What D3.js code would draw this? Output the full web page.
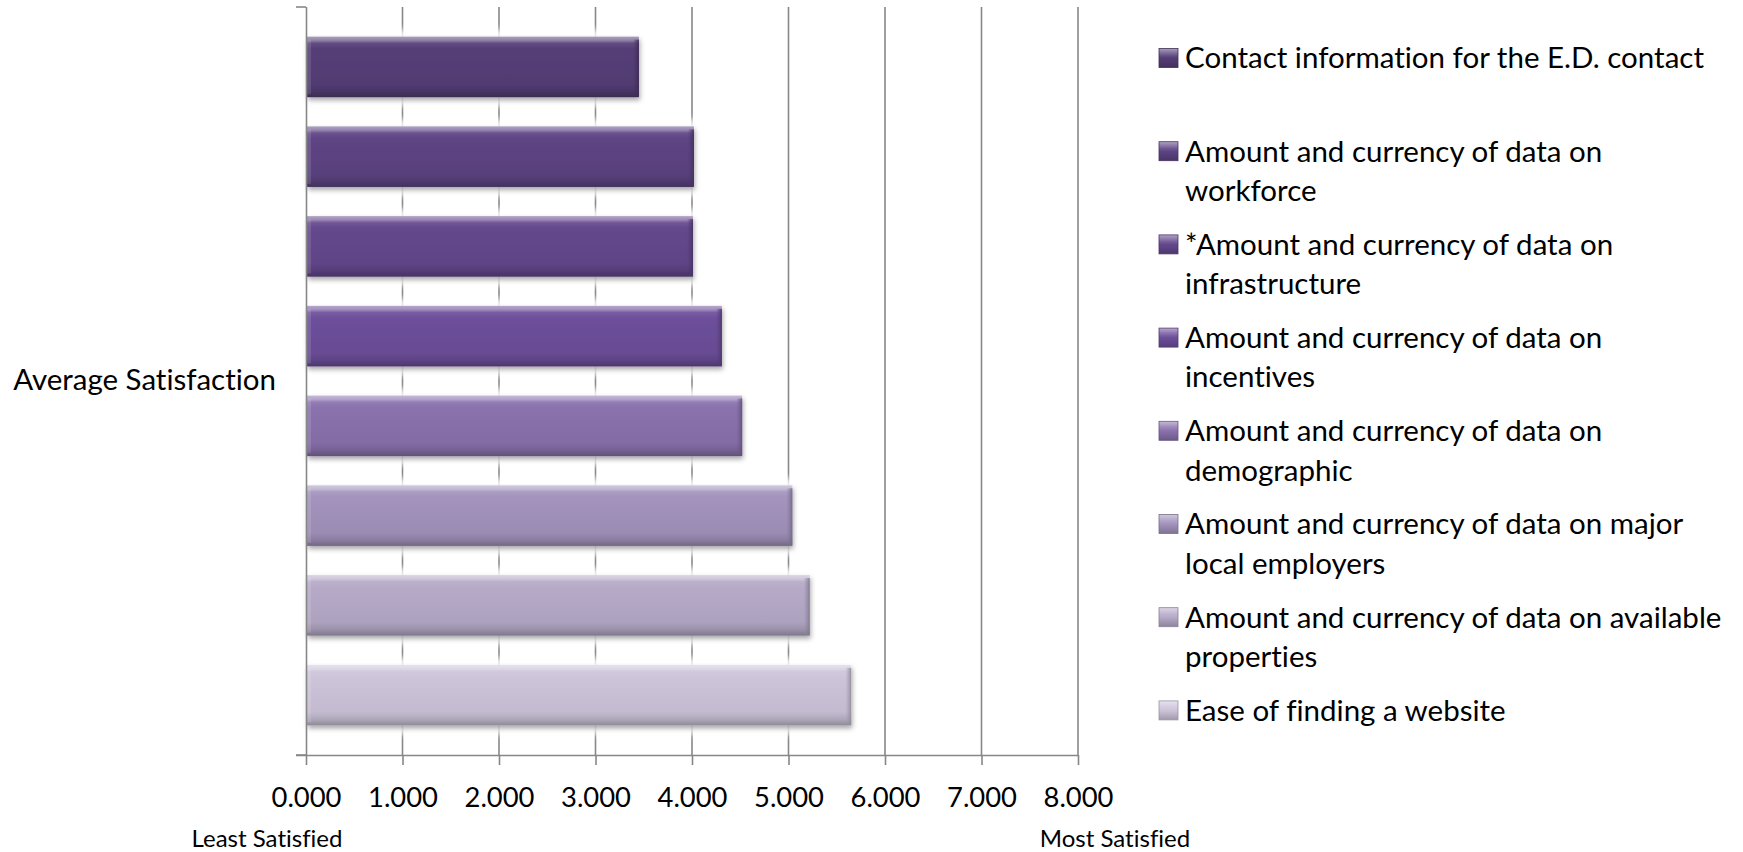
<!DOCTYPE html>
<html>
<head>
<meta charset="utf-8">
<script src="https://cdn.jsdelivr.net/npm/d3@7"></script>
<style>
  html, body { margin: 0; padding: 0; background: #ffffff; }
  svg { display: block; }
  text { font-variant-ligatures: none; }
</style>
</head>
<body>
<svg id="chart" width="1743" height="852"></svg>
<script>
// ---------------- data ----------------
const categoryLabel = "Average Satisfaction";
const seriesNames = [
  "Contact information for the E.D. contact",
  "Amount and currency of data on workforce",
  "*Amount and currency of data on infrastructure",
  "Amount and currency of data on incentives",
  "Amount and currency of data on demographic",
  "Amount and currency of data on major local employers",
  "Amount and currency of data on available properties",
  "Ease of finding a website"
];
const seriesValues = [3.45, 4.02, 4.01, 4.31, 4.52, 5.04, 5.22, 5.65];
const seriesColors = ["#553e77", "#5e4484", "#64488d", "#6d4f9b", "#8a72ad", "#a393bd", "#b6aac8", "#cdc4da"];
const xTicks = [0, 1, 2, 3, 4, 5, 6, 7, 8];
const xDomain = [0, 8];
const leftNote = "Least Satisfied";
const rightNote = "Most Satisfied";

// ---------------- layout ----------------
const plot = { left: 306, right: 1078, top: 7, bottom: 755 };
const FONT = "Lato, 'Open Sans', 'DejaVu Sans', sans-serif";
const axisColor = "#878787";

const svg = d3.select("#chart");
const defs = svg.append("defs");

function fitSize(text, target) {
  const t = svg.append("text").attr("font-family", FONT).attr("font-size", 100).text(text);
  const w = t.node().getComputedTextLength();
  t.remove();
  return 100 * target / w;
}
const legendSize = fitSize(seriesNames[0], 519);
const tickSize = fitSize("8.000", 70);
const catSize = fitSize(categoryLabel, 263);
const noteSize = fitSize(leftNote, 151);

const x = d3.scaleLinear().domain(xDomain).range([plot.left, plot.right]);
const yCat = d3.scaleBand().domain([categoryLabel]).range([plot.top, plot.bottom]);
const y = d3.scaleBand().domain(seriesNames).range([plot.top, plot.bottom])
  .paddingInner(0.325).paddingOuter(0.33);

// filters
const sh = defs.append("filter").attr("id", "shadow")
  .attr("x", "-5%").attr("y", "-30%").attr("width", "115%").attr("height", "170%");
sh.append("feDropShadow").attr("dx", 1).attr("dy", 3).attr("stdDeviation", 2.5)
  .attr("flood-color", "#000").attr("flood-opacity", 0.35);
const glow = defs.append("filter").attr("id", "glow")
  .attr("x", "-10%").attr("y", "-50%").attr("width", "120%").attr("height", "200%");
glow.append("feGaussianBlur").attr("stdDeviation", 3);

// gradients for each series
const lighten = (c, t) => d3.interpolateRgb(c, "#ffffff")(t);
const darken = (c, t) => d3.interpolateRgb(c, "#000000")(t);
seriesColors.forEach((c, i) => {
  const g = defs.append("linearGradient").attr("id", "bar" + i)
    .attr("x1", 0).attr("y1", 0).attr("x2", 0).attr("y2", 1);
  [[0, lighten(c, 0.5)], [0.06, lighten(c, 0.36)], [0.11, lighten(c, 0.08)], [0.2, c],
   [0.78, darken(c, 0.05)], [0.9, darken(c, 0.15)], [1, darken(c, 0.3)]]
    .forEach(([o, col]) => g.append("stop").attr("offset", o).attr("stop-color", col));
  const r = defs.append("linearGradient").attr("id", "edge" + i)
    .attr("x1", 0).attr("y1", 0).attr("x2", 1).attr("y2", 0);
  r.append("stop").attr("offset", 0).attr("stop-color", darken(c, 0.2)).attr("stop-opacity", 0);
  r.append("stop").attr("offset", 1).attr("stop-color", darken(c, 0.3)).attr("stop-opacity", 0.9);
  const s = defs.append("linearGradient").attr("id", "sw" + i)
    .attr("x1", 0).attr("y1", 0).attr("x2", 0).attr("y2", 1);
  [[0, lighten(c, 0.5)], [0.35, lighten(c, 0.12)], [0.5, c], [1, darken(c, 0.22)]]
    .forEach(([o, col]) => s.append("stop").attr("offset", o).attr("stop-color", col));
});

// ---------------- gridlines ----------------
svg.append("g").selectAll("line").data(xTicks.filter(d => d > 0)).join("line")
  .attr("x1", d => x(d)).attr("x2", d => x(d))
  .attr("y1", plot.top).attr("y2", plot.bottom)
  .attr("stroke", axisColor).attr("stroke-width", 1.6);

// ---------------- bars ----------------
const bars = svg.append("g");
bars.selectAll("rect.glow").data(seriesNames).join("rect").attr("class", "glow")
  .attr("x", x(0) + 2).attr("y", d => y(d) - 7)
  .attr("width", (d, i) => x(seriesValues[i]) - x(0) + 6)
  .attr("height", y.bandwidth() + 16)
  .attr("fill", "#ffffff").attr("opacity", 0.85).attr("filter", "url(#glow)");

const bg = bars.selectAll("g.bar").data(seriesNames).join("g").attr("class", "bar");
bg.append("rect")
  .attr("x", x(0) + 1).attr("y", d => y(d))
  .attr("width", (d, i) => x(seriesValues[i]) - x(0) - 1)
  .attr("height", y.bandwidth())
  .attr("fill", (d, i) => `url(#bar${i})`)
  .attr("filter", "url(#shadow)");
bg.append("rect")
  .attr("x", (d, i) => x(seriesValues[i]) - 6).attr("y", d => y(d) + 3)
  .attr("width", 6).attr("height", y.bandwidth() - 4)
  .attr("fill", (d, i) => `url(#edge${i})`);
bg.append("rect")
  .attr("x", x(0) + 1).attr("y", d => y(d) + 3)
  .attr("width", 4).attr("height", y.bandwidth() - 6)
  .attr("fill", "#ffffff").attr("opacity", 0.12);

// ---------------- axes ----------------
const xAxis = svg.append("g").attr("transform", `translate(0,${plot.bottom})`)
  .call(d3.axisBottom(x).tickValues(xTicks).tickFormat(d3.format(".3f")).tickSize(10).tickSizeOuter(0));
xAxis.select(".domain").attr("stroke", axisColor).attr("stroke-width", 1.6)
  .attr("d", `M${plot.left - 10},0.5H${plot.right}`);
xAxis.selectAll(".tick line").attr("stroke", axisColor).attr("stroke-width", 1.6);
xAxis.selectAll(".tick text").attr("y", 42).attr("dy", "0.35em")
  .attr("font-family", FONT).attr("font-size", tickSize).attr("fill", "#000");

const yAxis = svg.append("g").attr("transform", `translate(${plot.left},0)`)
  .call(d3.axisLeft(yCat).tickSize(0).tickPadding(30));
yAxis.select(".domain").attr("stroke", axisColor).attr("stroke-width", 1.6)
  .attr("d", `M0.5,${plot.top}V${plot.bottom}`);
yAxis.selectAll(".tick text").attr("font-family", FONT).attr("font-size", catSize)
  .attr("fill", "#000");
yAxis.selectAll("line.edge").data(yCat.range()).join("line").attr("class", "edge")
  .attr("x1", -10).attr("x2", 0).attr("y1", d => d).attr("y2", d => d)
  .attr("stroke", axisColor).attr("stroke-width", 1.6);

// notes under axis
svg.append("text").attr("x", 267).attr("y", 839).attr("dy", "0.35em")
  .attr("text-anchor", "middle").attr("font-family", FONT).attr("font-size", noteSize)
  .text(leftNote);
svg.append("text").attr("x", 1115).attr("y", 839).attr("dy", "0.35em")
  .attr("text-anchor", "middle").attr("font-family", FONT).attr("font-size", noteSize)
  .text(rightNote);

// ---------------- legend ----------------
const legend = { x: 1159, textX: 1185, y0: 58, step: 93.2, lineH: 39.5, sw: 19, maxW: 552 };
function wrap(text) {
  const words = text.split(" ");
  const lines = [];
  let cur = "";
  const t = svg.append("text").attr("font-family", FONT).attr("font-size", legendSize);
  words.forEach(w => {
    const test = cur ? cur + " " + w : w;
    t.text(test);
    if (t.node().getComputedTextLength() > legend.maxW && cur) { lines.push(cur); cur = w; }
    else cur = test;
  });
  lines.push(cur);
  t.remove();
  return lines;
}
const lg = svg.append("g").selectAll("g").data(seriesNames).join("g")
  .attr("transform", (d, i) => `translate(0,${legend.y0 + i * legend.step})`);
lg.append("rect").attr("x", legend.x).attr("y", -legend.sw / 2)
  .attr("width", legend.sw).attr("height", legend.sw)
  .attr("fill", (d, i) => `url(#sw${i})`)
  .attr("stroke", (d, i) => darken(seriesColors[i], 0.25)).attr("stroke-width", 0.8);
lg.each(function (d) {
  const lines = wrap(d);
  const t = d3.select(this).append("text").attr("font-family", FONT)
    .attr("font-size", legendSize).attr("fill", "#000");
  lines.forEach((ln, k) => t.append("tspan").attr("x", legend.textX)
    .attr("y", k * legend.lineH).attr("dy", "0.35em").text(ln));
});
</script>
</body>
</html>
